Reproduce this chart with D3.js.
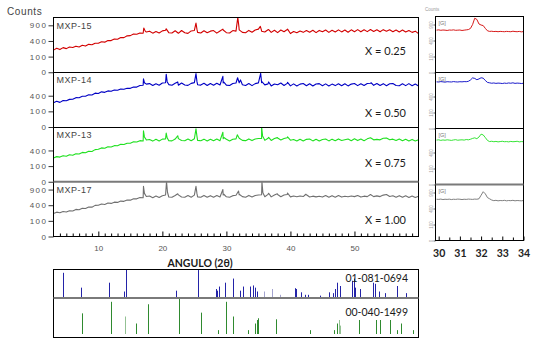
<!DOCTYPE html>
<html lang="es">
<head>
<meta charset="UTF-8">
<script src="https://d3js.org/d3.v7.min.js"></script>
<title>DRX MXP</title>
<style>
  body { margin: 0; background: #fff; }
  svg { display: block; }
  .small { font-family: "Liberation Sans", Arial, sans-serif; fill: #555; }
  .big { font-family: Lato, "Open Sans", sans-serif; fill: #1a1a1a; }
</style>
</head>
<body>
<div id="chart"></div>
<script>
// ---- data ----
const sampleNames = ["MXP-15", "MXP-14", "MXP-13", "MXP-17"];
const compositionLabels = ["X = 0.25", "X = 0.50", "X = 0.75", "X = 1.00"];
const lineColors = ["#d20000", "#0000c4", "#1fe01f", "#707070"];
const mainTicks = [[0, 100, 400, 900], [0, 100, 400], [0, 100, 400], [0, 100, 400, 900]];
const xTickLabels = [10, 20, 30, 40, 50];
const insetTickLabels = [30, 31, 32, 33, 34];

// background points, 3.0 .. 60.0 deg every 0.5 deg (counts)
const bgAngles = d3.range(3, 60.001, 0.5);
const mxp15Bg = [
  200, 235, 210, 248, 228, 262, 250, 278, 262, 298,
  280, 318, 308, 345, 342, 380, 370, 412, 410, 452,
  445, 492, 490, 542, 548, 598, 590, 632, 620, 660,
  690, 625, 680, 632, 700, 720, 640, 628, 702, 620,
  712, 640, 618, 698, 715, 650, 630, 705, 640, 690,
  710, 625, 695, 730, 640, 628, 710, 690, 735, 650,
  640, 715, 655, 730, 760, 690, 660, 740, 650, 722,
  640, 728, 670, 748, 612, 680, 640, 695, 650, 712,
  655, 720, 642, 715, 668, 730, 650, 722, 660, 735,
  665, 728, 652, 735, 672, 742, 668, 738, 675, 748,
  680, 735, 668, 742, 690, 738, 672, 730, 665, 728,
  660, 712, 650, 690, 610
];
const mxp14Bg = [
  242, 272, 248, 288, 282, 312, 315, 352, 348, 385,
  385, 425, 420, 468, 460, 505, 490, 532, 520, 558,
  550, 590, 580, 615, 610, 652, 650, 702, 712, 752,
  770, 705, 765, 715, 790, 800, 735, 715, 780, 712,
  790, 722, 708, 778, 805, 732, 718, 780, 705, 772,
  712, 780, 720, 790, 715, 705, 775, 790, 798, 728,
  705, 772, 700, 770, 795, 805, 725, 760, 690, 758,
  728, 790, 705, 778, 692, 760, 685, 752, 772, 695,
  762, 688, 755, 768, 695, 760, 688, 752, 700, 765,
  695, 762, 690, 752, 772, 700, 765, 705, 772, 785,
  710, 772, 705, 768, 698, 762, 772, 705, 695, 762,
  700, 768, 695, 755, 690
];
const mxp13Bg = [
  232, 258, 248, 278, 265, 298, 288, 322, 315, 352,
  342, 382, 375, 422, 430, 468, 458, 502, 495, 532,
  528, 572, 565, 608, 608, 652, 648, 690, 680, 715,
  728, 675, 735, 680, 742, 752, 690, 682, 745, 760,
  695, 685, 748, 690, 755, 700, 685, 742, 680, 740,
  685, 748, 690, 760, 738, 682, 740, 752, 772, 700,
  690, 750, 692, 748, 765, 768, 700, 775, 698, 765,
  780, 712, 765, 790, 705, 730, 682, 740, 678, 735,
  745, 682, 740, 678, 732, 745, 682, 742, 688, 750,
  695, 720, 745, 690, 755, 692, 745, 688, 752, 790,
  718, 735, 718, 772, 780, 720, 742, 695, 745, 688,
  738, 682, 732, 678, 722
];
const mxp17Bg = [
  218, 242, 232, 256, 246, 272, 266, 300, 294, 326,
  320, 356, 352, 396, 400, 432, 420, 458, 448, 482,
  475, 512, 505, 542, 540, 582, 580, 622, 615, 652,
  668, 615, 672, 622, 680, 702, 638, 628, 688, 708,
  638, 628, 685, 632, 700, 642, 632, 690, 628, 682,
  632, 688, 638, 705, 645, 628, 682, 698, 710, 650,
  632, 690, 638, 688, 705, 712, 648, 725, 642, 702,
  722, 648, 702, 720, 642, 672, 645, 668, 652, 712,
  638, 665, 642, 660, 635, 685, 628, 682, 632, 688,
  635, 662, 645, 670, 650, 688, 635, 665, 650, 720,
  650, 675, 650, 700, 720, 655, 678, 630, 682, 628,
  678, 625, 672, 620, 662
];

// diffraction peaks [2theta, counts]
const mxp15Peaks = [[17.1, 800], [17.3, 700], [20.6, 770], [25.25, 990], [25.4, 760],
  [29.45, 760], [31.78, 1230], [31.95, 860], [35.3, 860], [35.45, 740], [36.6, 745], [39.55, 760]];
const mxp14Peaks = [[17.05, 945], [17.2, 800], [20.6, 1140], [20.75, 840], [22.4, 830],
  [25.25, 1165], [25.4, 850], [29.45, 1050], [29.6, 820], [31.75, 990], [32.2, 905],
  [35.35, 1180], [35.5, 850], [36.6, 830], [39.55, 815], [52.6, 800]];
const mxp13Peaks = [[17.05, 1060], [17.2, 820], [20.6, 965], [20.75, 790], [22.4, 865],
  [25.25, 1145], [25.4, 850], [29.45, 1000], [29.6, 800], [31.7, 900], [35.5, 1230],
  [35.65, 860], [36.6, 805], [37.95, 795], [39.55, 825]];
const mxp17Peaks = [[17.05, 1025], [17.2, 760], [20.65, 1230], [20.8, 800], [22.4, 745],
  [25.25, 1030], [25.4, 760], [29.45, 900], [29.6, 730], [31.9, 845], [32.05, 720],
  [35.55, 1230], [35.7, 780], [36.6, 765], [37.95, 745], [39.55, 775], [42.4, 730]];

// zoomed region 29.9 .. 34.0 deg every 0.1 deg
const insetAngles = d3.range(29.9, 34.0001, 0.1);
const mxp15Zoom = [700, 710, 695, 705, 700, 690, 705, 700, 710, 695, 700, 705, 690, 700, 710, 720,
  760, 900, 1150, 1100, 920, 880, 860, 760, 680, 660, 665, 655, 660, 650, 660, 655, 650, 660,
  655, 650, 665, 655, 650, 660, 645, 655];
const mxp14Zoom = [850, 845, 860, 850, 840, 855, 850, 845, 860, 850, 845, 855, 850, 860, 855, 870,
  920, 1000, 980, 930, 960, 1005, 990, 900, 830, 815, 800, 810, 795, 805, 800, 790, 805, 795,
  810, 800, 815, 795, 805, 800, 790, 800];
const mxp13Zoom = [770, 780, 760, 775, 765, 780, 770, 760, 775, 785, 765, 775, 780, 770, 790, 780,
  800, 830, 850, 820, 880, 990, 960, 860, 760, 720, 730, 715, 725, 710, 720, 730, 715, 720,
  710, 725, 715, 720, 730, 710, 720, 715];
const mxp17Zoom = [665, 660, 670, 655, 665, 660, 668, 655, 665, 660, 670, 665, 655, 665, 660, 670,
  665, 660, 670, 665, 680, 800, 930, 850, 720, 680, 640, 620, 630, 615, 625, 620, 630, 615,
  625, 620, 630, 615, 625, 620, 615, 625];

// reference patterns [2theta, relative intensity]
const card0694 = [[4.46, 88], [7.32, 34], [11.64, 52], [13.98, 20], [14.35, 100], [22.16, 23],
  [25.54, 98], [28.3, 29], [28.56, 23], [28.87, 38], [29.75, 52], [31.06, 67], [32.1, 23],
  [32.6, 38], [33.76, 38], [34.1, 42], [34.4, 34], [34.8, 20], [40.7, 32], [40.9, 29],
  [41.7, 17], [42.35, 8], [42.7, 8], [44.6, 5], [46.0, 17], [46.7, 14], [46.9, 29], [47.3, 52],
  [47.7, 40], [49.6, 59], [50.0, 67], [50.15, 34], [50.8, 29], [52.9, 52], [53.2, 48],
  [53.9, 20], [54.8, 14], [56.7, 40], [58.1, 14]];
const card0694Faint = [[35.8, 20], [37.1, 29], [38.3, 8]];
const card1499 = [[7.47, 59], [12.0, 92], [15.96, 30], [17.73, 85], [22.67, 100], [26.06, 61],
  [28.66, 11], [29.9, 92], [31.0, 50], [33.3, 11], [34.4, 30], [34.8, 40], [35.0, 45],
  [37.8, 42], [43.0, 11], [46.8, 11], [47.3, 30], [50.7, 40], [53.4, 40], [53.95, 40],
  [55.5, 40], [56.6, 11], [57.3, 30], [59.2, 11]];
const card1499Faint = [[14.13, 50], [47.55, 40], [47.8, 24]];

const bgSeries = [mxp15Bg, mxp14Bg, mxp13Bg, mxp17Bg];
const peakSeries = [mxp15Peaks, mxp14Peaks, mxp13Peaks, mxp17Peaks];
const zoomSeries = [mxp15Zoom, mxp14Zoom, mxp13Zoom, mxp17Zoom];

// ---- layout ----
const width = 542, height = 345;
const main = { left: 53.5, right: 418.5, top: 17.5, bottom: 236.5 };
const mainPh = (main.bottom - main.top) / 4;
const inset = { left: 435.5, right: 523.5, top: 16.5, bottom: 240.5 };
const insetPh = (inset.bottom - inset.top) / 4;
const sticks = { top: 269.5, mid: 298, bottom: 337.5 };
const xLabelDy = [37.5, 44.5, 39.7, 42.3];

const svg = d3.select("#chart").append("svg")
    .attr("width", width)
    .attr("height", height);
const defs = svg.append("defs");

const x = d3.scaleLinear().domain([3, 60]).range([main.left, main.right]);
const ix = d3.scaleLinear().domain([29.85, 34]).range([inset.left, inset.right]);

function mergeSeries(bg, peaks) {
    const pts = bg.map((c, i) => [bgAngles[i], c]);
    return pts.concat(peaks).sort((a, b) => a[0] - b[0]);
}

// ---- main panels ----
sampleNames.forEach((name, i) => {
    const top = main.top + i * mainPh;
    const y = d3.scaleSqrt().domain([0, 1225]).range([top + mainPh, top]);

    defs.append("clipPath").attr("id", "clip" + i)
        .append("rect")
        .attr("x", main.left).attr("y", top)
        .attr("width", main.right - main.left).attr("height", mainPh);

    const line = d3.line().x(d => x(d[0])).y(d => y(d[1]));
    svg.append("path")
        .datum(mergeSeries(bgSeries[i], peakSeries[i]))
        .attr("clip-path", `url(#clip${i})`)
        .attr("fill", "none")
        .attr("stroke", lineColors[i])
        .attr("stroke-width", 1.1)
        .attr("stroke-linejoin", "round")
        .attr("d", line);

    const ax = svg.append("g")
        .attr("transform", `translate(${main.left},0)`)
        .call(d3.axisLeft(y).tickValues(mainTicks[i]).tickSize(5).tickPadding(1).tickFormat(d3.format("d")));
    ax.select(".domain").remove();
    ax.selectAll("line").attr("stroke", "#333");
    ax.selectAll("text").attr("class", "small")
        .style("font-size", "8px").style("letter-spacing", "1.5px");

    svg.append("text").attr("class", "small")
        .attr("x", main.left + 3).attr("y", top + 11)
        .style("font-size", "9px").style("letter-spacing", "0.5px").style("fill", "#444")
        .text(name);

    svg.append("text").attr("class", "big")
        .attr("x", 406).attr("y", top + xLabelDy[i])
        .attr("text-anchor", "end")
        .style("font-size", "11px")
        .text(compositionLabels[i]);
});

// frame and dividers
svg.append("rect")
    .attr("x", main.left).attr("y", main.top)
    .attr("width", main.right - main.left).attr("height", main.bottom - main.top)
    .attr("fill", "none").attr("stroke", "#000");
[1, 2, 3].forEach(k => {
    const yy = main.top + k * mainPh;
    svg.append("line")
        .attr("x1", main.left).attr("x2", main.right)
        .attr("y1", k === 3 ? yy : Math.round(yy) + 0.5).attr("y2", k === 3 ? yy : Math.round(yy) + 0.5)
        .attr("stroke", k === 3 ? "#7a7a7a" : "#000")
        .attr("stroke-width", k === 3 ? 2 : 1);
});

// x axis, ticks pointing inwards
const minor = d3.range(4, 60, 1).filter(v => v % 10 !== 0);
const gMinor = svg.append("g").attr("transform", `translate(0,${main.bottom})`)
    .call(d3.axisBottom(x).tickValues(minor).tickSize(-3).tickFormat(""));
gMinor.select(".domain").remove();
const gMajor = svg.append("g").attr("transform", `translate(0,${main.bottom})`)
    .call(d3.axisBottom(x).tickValues(xTickLabels).tickSize(-5).tickPadding(9));
gMajor.select(".domain").remove();
gMajor.selectAll("text").attr("class", "small").style("font-size", "8px");

svg.append("text").attr("class", "small")
    .attr("x", 7).attr("y", 14.5)
    .style("font-size", "10px").style("letter-spacing", "0.6px").style("fill", "#444")
    .text("Counts");

svg.append("text").attr("class", "big")
    .attr("x", 200).attr("y", 267)
    .attr("text-anchor", "middle")
    .style("font-size", "10.5px").style("font-weight", "bold")
    .text("ANGULO (2θ)");

// ---- zoomed panels ----
zoomSeries.forEach((vals, i) => {
    const top = inset.top + i * insetPh;
    const y = d3.scaleSqrt().domain([0, 1225]).range([top + insetPh, top]);

    defs.append("clipPath").attr("id", "iclip" + i)
        .append("rect")
        .attr("x", inset.left).attr("y", top)
        .attr("width", inset.right - inset.left).attr("height", insetPh);

    const line = d3.line().x((d, j) => ix(insetAngles[j])).y(d => y(d));
    svg.append("path")
        .datum(vals)
        .attr("clip-path", `url(#iclip${i})`)
        .attr("fill", "none")
        .attr("stroke", lineColors[i])
        .attr("stroke-width", 0.9)
        .attr("d", line);

    const ax = svg.append("g")
        .attr("transform", `translate(${inset.left},0)`)
        .call(d3.axisLeft(y).tickValues(mainTicks[i]).tickSize(2).tickFormat(d3.format("d")));
    ax.select(".domain").remove();
    ax.selectAll("line").attr("stroke", "#666");
    ax.selectAll("text")
        .attr("x", 0).attr("dy", 0)
        .attr("transform", "translate(-3,0) rotate(-90)")
        .attr("text-anchor", "middle")
        .style("font-family", "Liberation Sans, sans-serif")
        .style("font-size", "4.5px").style("fill", "#999");

    svg.append("text")
        .attr("x", inset.left + 3).attr("y", top + 8)
        .style("font-family", "Liberation Sans, sans-serif")
        .style("font-size", "5.5px").style("fill", "#777")
        .text("[G]");
});

svg.append("rect")
    .attr("x", inset.left).attr("y", inset.top)
    .attr("width", inset.right - inset.left).attr("height", inset.bottom - inset.top)
    .attr("fill", "none").attr("stroke", "#000");
[1, 2, 3].forEach(k => {
    const yy = inset.top + k * insetPh;
    svg.append("line")
        .attr("x1", inset.left).attr("x2", inset.right)
        .attr("y1", yy).attr("y2", yy)
        .attr("stroke", k === 3 ? "#7a7a7a" : "#000")
        .attr("stroke-width", k === 3 ? 2 : 1);
});

const gInsetMinor = svg.append("g").attr("transform", `translate(0,${inset.bottom})`)
    .call(d3.axisBottom(ix).tickValues([30.5, 31.5, 32.5, 33.5]).tickSize(-3).tickFormat(""));
gInsetMinor.select(".domain").remove();
const gInset = svg.append("g").attr("transform", `translate(0,${inset.bottom})`)
    .call(d3.axisBottom(ix).tickValues(insetTickLabels).tickSize(-4).tickPadding(9).tickFormat(d3.format("d")));
gInset.select(".domain").remove();
gInset.selectAll("text").attr("class", "big")
    .style("font-size", "10.5px").style("font-weight", "bold").style("fill", "#222");

svg.append("text")
    .attr("x", 425).attr("y", 11)
    .style("font-family", "Liberation Sans, sans-serif")
    .style("font-size", "4.5px").style("fill", "#999")
    .text("Counts");

// ---- reference cards ----
const yBlue = d3.scaleLinear().domain([0, 100]).range([sticks.mid - 1, sticks.top]);
const yGreen = d3.scaleLinear().domain([0, 100]).range([334, 299]);
const px = v => Math.round(x(v)) + 0.5;

function drawSticks(data, yScale, color) {
    svg.append("g").selectAll("line")
        .data(data)
        .enter().append("line")
        .attr("x1", d => px(d[0])).attr("x2", d => px(d[0]))
        .attr("y1", yScale(0)).attr("y2", d => yScale(d[1]))
        .attr("stroke", color).attr("stroke-width", 1);
}
drawSticks(card0694, yBlue, "#2323a8");
drawSticks(card0694Faint, yBlue, "#a3a3cf");
drawSticks(card1499, yGreen, "#2f8a2f");
drawSticks(card1499Faint, yGreen, "#93c193");

svg.append("rect")
    .attr("x", main.left).attr("y", sticks.top)
    .attr("width", main.right - main.left).attr("height", sticks.bottom - sticks.top)
    .attr("fill", "none").attr("stroke", "#000");
svg.append("line")
    .attr("x1", main.left).attr("x2", main.right)
    .attr("y1", sticks.mid).attr("y2", sticks.mid)
    .attr("stroke", "#7a7a7a").attr("stroke-width", 2);

svg.append("text").attr("class", "big")
    .attr("x", 408).attr("y", 282)
    .attr("text-anchor", "end").style("font-size", "10.5px")
    .text("01-081-0694");
svg.append("text").attr("class", "big")
    .attr("x", 408).attr("y", 316)
    .attr("text-anchor", "end").style("font-size", "10.5px")
    .text("00-040-1499");
</script>
</body>
</html>
